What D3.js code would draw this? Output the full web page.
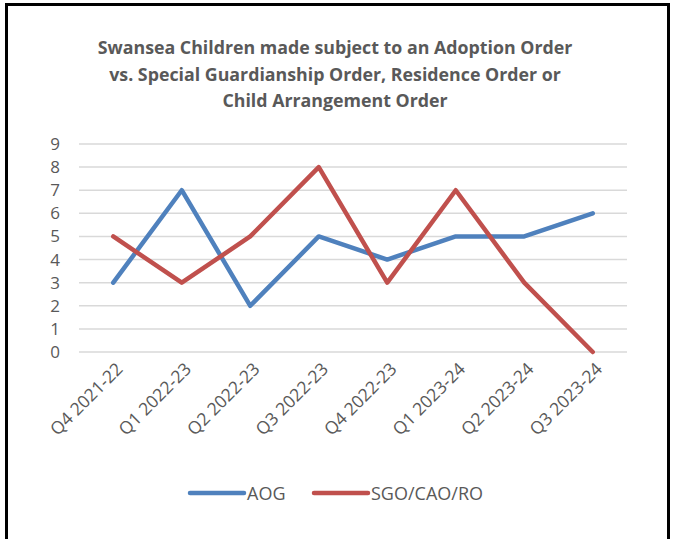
<!DOCTYPE html>
<html><head><meta charset="utf-8">
<script src="https://cdn.jsdelivr.net/npm/d3@7"></script>
<style>body{margin:0;background:#fff}svg{display:block}</style>
</head><body>
<svg id="c" width="675" height="539"></svg>
<script>
const categories = ["Q4 2021-22","Q1 2022-23","Q2 2022-23","Q3 2022-23","Q4 2022-23","Q1 2023-24","Q2 2023-24","Q3 2023-24"];
const aog = [3,7,2,5,4,5,5,6];
const sgo = [5,3,5,8,3,7,3,0];
const yTicks = [0,1,2,3,4,5,6,7,8,9];
const seriesNames = ["AOG","SGO/CAO/RO"];
const titleLines = ["Swansea Children made subject to an Adoption Order","vs. Special Guardianship Order, Residence Order or","Child Arrangement Order"];

const svg = d3.select("#c");
const font = "'Open Sans', sans-serif";
const grey = "#595959";
const colors = ["#4F81BD","#C0504D"];

// border
svg.append("path").attr("d","M6.5,539 V4.5 H668.5 V539").attr("fill","none").attr("stroke","#000").attr("stroke-width",3);

const x = d3.scalePoint().domain(categories).range([79,627]).padding(0.5);
const y = d3.scaleLinear().domain([0,9]).range([352,144]);

// title
svg.append("g").selectAll("text").data(titleLines).join("text")
  .attr("x",335).attr("y",(d,i)=>54+i*26.5)
  .attr("text-anchor","middle").attr("font-family",font).attr("font-weight","bold")
  .attr("font-size","17.8px").attr("fill",grey).text(d=>d);

// gridlines
svg.append("g").selectAll("line").data(yTicks).join("line")
  .attr("x1",79).attr("x2",627).attr("y1",d=>y(d)).attr("y2",d=>y(d))
  .attr("stroke","#d9d9d9").attr("stroke-width",1.5);

// y axis
const ya = svg.append("g").attr("transform","translate(79,0)").call(d3.axisLeft(y).tickValues(yTicks).tickSize(0).tickPadding(19));
ya.select(".domain").remove();
ya.selectAll("text").attr("font-family",font).attr("font-size","17px").attr("fill",grey);

// x axis
const xa = svg.append("g").attr("transform","translate(0,352)").call(d3.axisBottom(x).tickSize(0));
xa.select(".domain").remove();
xa.selectAll("text").attr("font-family",font).attr("font-size","17.5px").attr("fill",grey)
  .attr("text-anchor","end").attr("dy",0)
  .attr("transform","translate(8,16) rotate(-45)");

// lines
const line = d3.line().x((d,i)=>x(categories[i])).y(d=>y(d));
[aog,sgo].forEach((s,k)=>{
  svg.append("path").datum(s).attr("d",line).attr("fill","none")
    .attr("stroke",colors[k]).attr("stroke-width",4.5)
    .attr("stroke-linecap","round").attr("stroke-linejoin","round");
});

// legend
const lg = svg.append("g");
const lx = [190,314];
seriesNames.forEach((n,k)=>{
  lg.append("line").attr("x1",lx[k]).attr("x2",lx[k]+54).attr("y1",493).attr("y2",493)
    .attr("stroke",colors[k]).attr("stroke-width",4.5).attr("stroke-linecap","round");
  lg.append("text").attr("x",lx[k]+57).attr("y",499.5).attr("font-family",font)
    .attr("font-size","18px").attr("fill",grey).text(n);
});
</script>
</body></html>
